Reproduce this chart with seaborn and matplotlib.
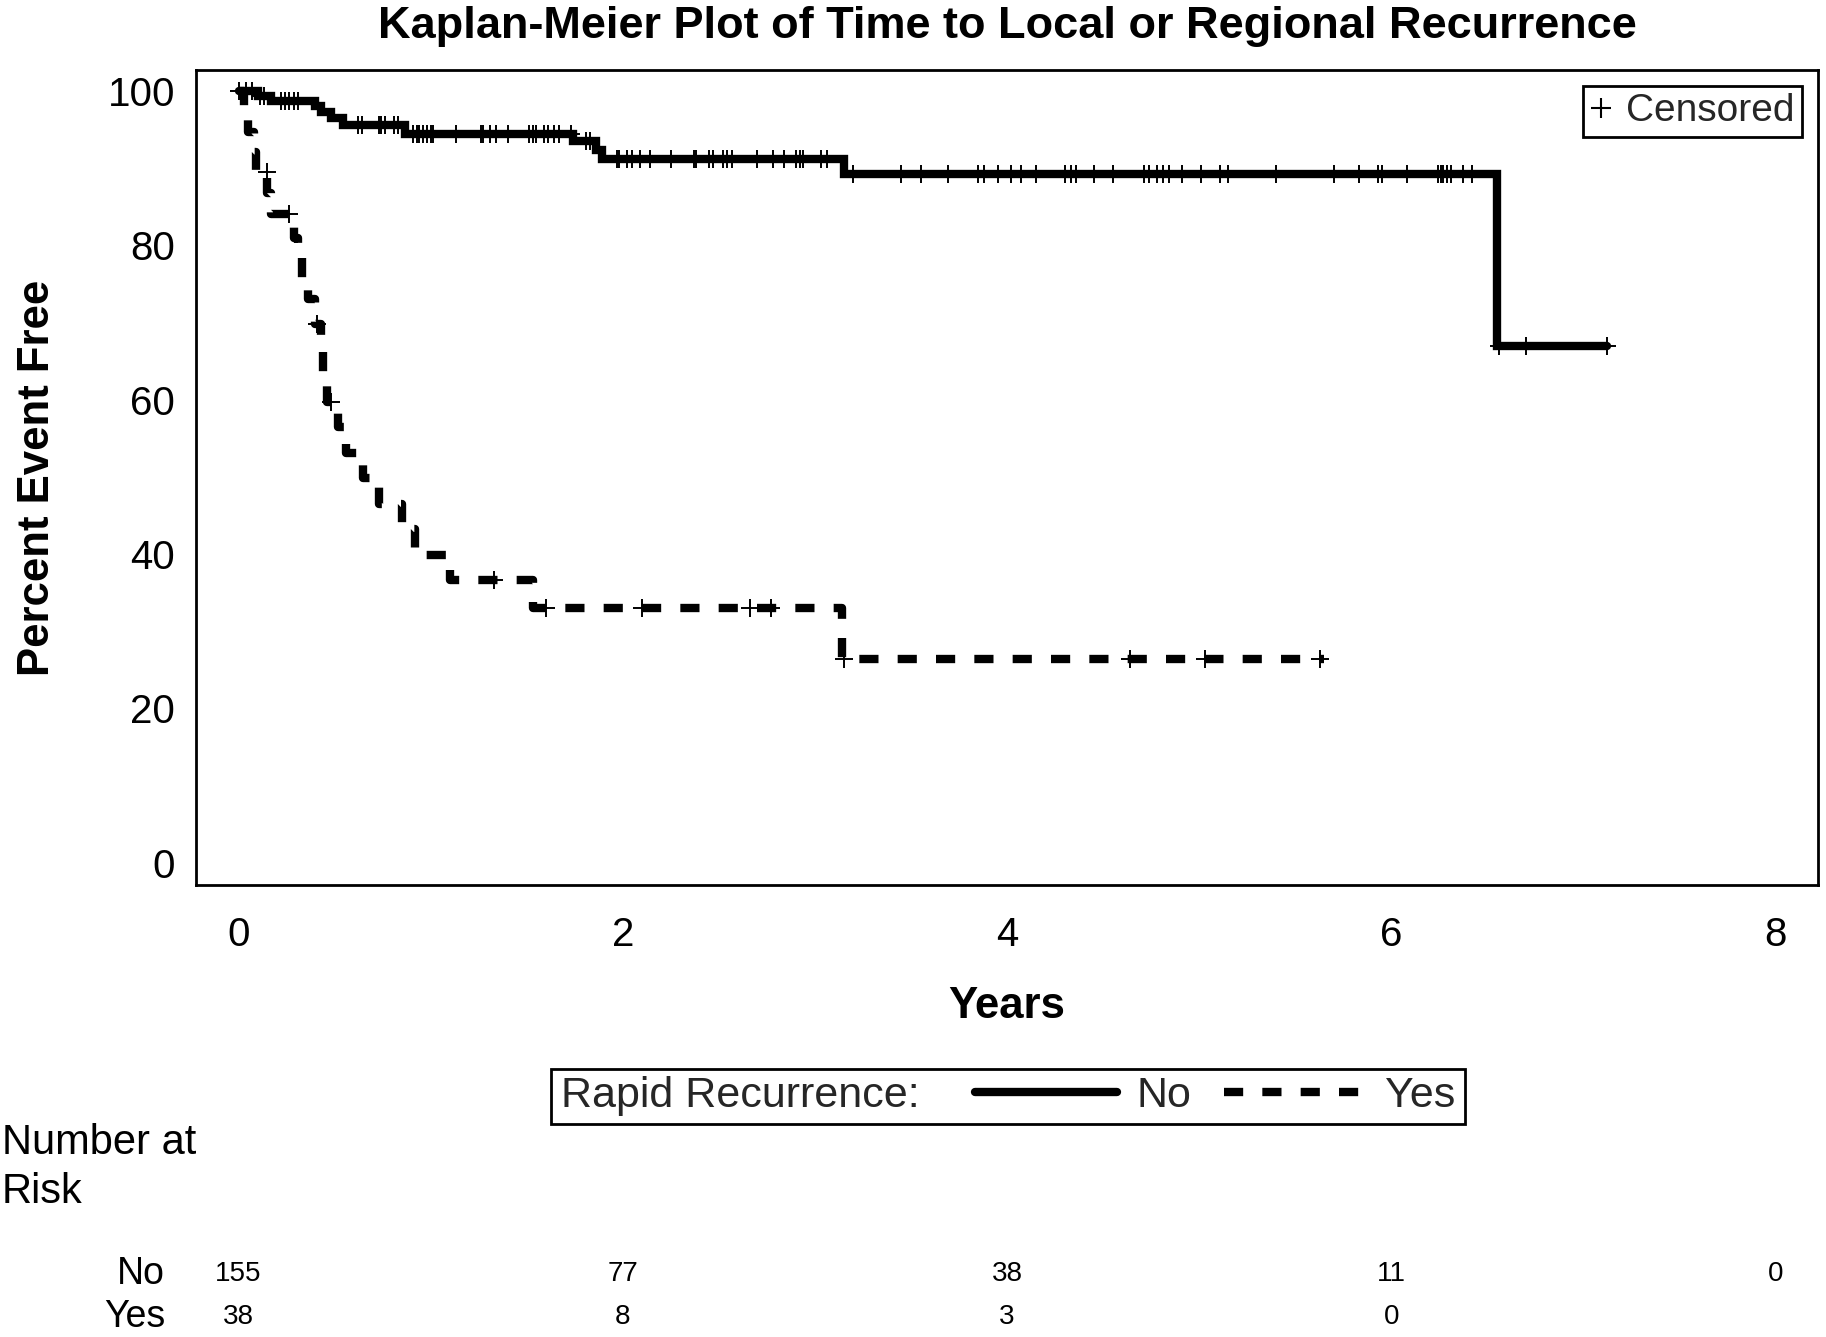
import numpy as np
import pandas as pd
import matplotlib
matplotlib.use("Agg")
import matplotlib.pyplot as plt
import seaborn as sns
from matplotlib.lines import Line2D
from matplotlib.offsetbox import HPacker, DrawingArea

# ---------------- data ----------------
title = "Kaplan-Meier Plot of Time to Local or Regional Recurrence"
x_label = "Years"
y_label = "Percent Event Free"
group_title = "Rapid Recurrence:"
groups = ["No", "Yes"]
censor_label = "Censored"
risk_title = "Number at\nRisk"

no_times = [0.00, 0.10, 0.17, 0.40, 0.43, 0.48, 0.545, 0.866, 1.74, 1.86, 1.89, 3.15, 6.55]
no_surv = [100.0, 99.4, 98.7, 98.0, 97.3, 96.5, 95.6, 94.4, 93.5, 92.4, 91.2, 89.3, 67.0]
no_end = 7.12
no_censor = [0.0, 0.04, 0.07, 0.11, 0.13, 0.22, 0.24, 0.26, 0.29, 0.31,
             0.62, 0.64, 0.73, 0.74, 0.76, 0.81, 0.83,
             0.91, 0.93, 0.94, 0.96, 0.98, 1.00, 1.01, 1.13, 1.26, 1.27, 1.31, 1.34,
             1.40, 1.51, 1.53, 1.55, 1.59, 1.61, 1.64, 1.67, 1.73, 1.81, 1.83,
             1.97, 1.98, 2.02, 2.05, 2.09, 2.14, 2.25, 2.37, 2.38, 2.45, 2.47, 2.52,
             2.54, 2.57, 2.70, 2.78, 2.84, 2.90, 2.92, 2.94, 3.03, 3.06,
             3.20, 3.45, 3.55, 3.69, 3.85, 3.88, 3.95, 4.02, 4.07, 4.15, 4.30, 4.33,
             4.36, 4.45, 4.55, 4.71, 4.74, 4.78, 4.81, 4.84, 4.91, 5.01, 5.11, 5.15,
             5.40, 5.70, 5.83, 5.93, 5.95, 6.08, 6.24, 6.26, 6.27, 6.29, 6.31, 6.37,
             6.42, 6.56, 6.70, 7.12]

yes_times = [0.00, 0.03, 0.05, 0.08, 0.09, 0.15, 0.17, 0.29, 0.31, 0.33, 0.36, 0.40,
             0.43, 0.44, 0.46, 0.52, 0.56, 0.65, 0.73, 0.85, 0.92, 1.10, 1.53, 3.14]
yes_surv = [100.0, 97.4, 94.7, 92.1, 89.5, 86.8, 84.1, 81.0, 78.4, 75.8, 73.0, 69.8,
            66.5, 63.1, 59.7, 56.4, 53.1, 49.8, 46.5, 43.2, 39.9, 36.6, 33.0, 26.4]
yes_end = 5.65
yes_censor = [0.146, 0.26, 0.41, 0.48, 1.33, 1.60, 2.10, 2.66, 2.77, 3.15, 4.64, 5.03, 5.63]

risk_times = [0, 2, 4, 6, 8]
risk_no = [155, 77, 38, 11, 0]
risk_yes = [38, 8, 3, 0]

x_ticks = [0, 2, 4, 6, 8]
y_ticks = [0, 20, 40, 60, 80, 100]

# ---------------- style ----------------
sns.set_theme(style="white")
plt.rcParams['font.family'] = ['Liberation Sans', 'DejaVu Sans']
plt.rcParams['axes.edgecolor'] = 'black'
plt.rcParams['lines.scale_dashes'] = True

fig = plt.figure(figsize=(18.26, 13.37), dpi=100)
ax = fig.add_axes([0.1073, 0.3381, 0.8883, 0.6095])


def step_frame(times, surv, end):
    t = list(times) + [end]
    s = list(surv) + [surv[-1]]
    return pd.DataFrame({"t": t, "s": s})


def censor_frame(times, surv, cens):
    t = np.asarray(times)
    s = np.asarray(surv)
    c = np.asarray(cens)
    idx = np.searchsorted(t, c, side='right') - 1
    return pd.DataFrame({"t": c, "s": s[idx]})


df_no = step_frame(no_times, no_surv, no_end)
df_yes = step_frame(yes_times, yes_surv, yes_end)

LW = 6
DASH = (0, (2.3, 2.3))

sns.lineplot(data=df_no, x="t", y="s", ax=ax, estimator=None, sort=False,
             drawstyle='steps-post', color='black', lw=LW, solid_joinstyle='miter')
sns.lineplot(data=df_yes, x="t", y="s", ax=ax, estimator=None, sort=False,
             drawstyle='steps-post', color='black', lw=LW)
ax.lines[-1].set_linestyle(DASH)
ax.lines[-1].set_dash_capstyle('butt')

cn = censor_frame(no_times, no_surv, no_censor)
cy = censor_frame(yes_times, yes_surv, yes_censor)
for cdf in (cn, cy):
    sns.scatterplot(data=cdf, x="t", y="s", ax=ax, marker='+', s=170,
                    color='black', linewidth=1.4, zorder=5, legend=False)

ax.set_xlim(-0.222, 8.22)
ax.set_ylim(-2.86, 102.7)
ax.set_xticks(x_ticks)
ax.set_yticks(y_ticks)
ax.tick_params(axis='both', which='major', length=11, width=1.5, color='black',
               labelsize=29, labelcolor='black', direction='out')
ax.tick_params(axis='x', pad=11)
ax.tick_params(axis='y', pad=4)
for sp in ax.spines.values():
    sp.set_visible(True)
    sp.set_linewidth(2)
    sp.set_color('black')

ax.set_xlabel(x_label, fontsize=31.5, fontweight='bold', color='black')
ax.set_ylabel(y_label, fontsize=31.5, fontweight='bold', color='black')
ax.xaxis.set_label_coords(0.5, -0.1497)
ax.xaxis.label.set_va('center')
ax.yaxis.set_label_coords(-0.0974, 0.5)
ax.yaxis.label.set_va('center')

fig.text(0.5515, 0.980, title, ha='center', va='center', fontsize=32.5,
         fontweight='bold', color='black')

# censored legend
cens_handle = Line2D([], [], marker='+', ls='none', color='black', ms=14, mew=1.5)
leg_c = ax.legend(handles=[cens_handle], labels=[censor_label], loc='upper right',
                  fancybox=False, edgecolor='black', framealpha=1, fontsize=28,
                  handlelength=0.5, handletextpad=0.4, borderpad=0.2,
                  borderaxespad=0.4)
leg_c.get_frame().set_linewidth(2)

# group legend (title to the left of handles)
h_no = Line2D([], [], color='black', lw=LW)
h_yes = Line2D([], [], color='black', lw=LW, linestyle=DASH, dash_capstyle='butt')
leg = fig.legend(handles=[h_no, h_yes], labels=groups, title=group_title, ncol=2,
                 loc='center', bbox_to_anchor=(0.552, 0.180), fancybox=False,
                 edgecolor='black', framealpha=1, fontsize=31, title_fontsize=31,
                 handlelength=3.3, handletextpad=0.45, columnspacing=0.75,
                 borderpad=0.4)
leg.get_frame().set_linewidth(2)
inner = HPacker(pad=0, sep=40, align="center",
                children=[leg._legend_title_box, leg._legend_handle_box])
box = HPacker(pad=5.3, sep=0, align="center",
              children=[DrawingArea(1.5, 1), inner, DrawingArea(1.5, 1)])
box.set_figure(fig)
box.axes = leg.axes
leg._legend_box = box
box.set_offset(leg._findoffset)

# number at risk table
fig.text(0.001, 0.160, risk_title, ha='left', va='top', fontsize=30,
         linespacing=1.28, color='black')
row_y = [0.0471, 0.0150]
trans = matplotlib.transforms.blended_transform_factory(ax.transData, fig.transFigure)
for gname, yy, counts in zip(groups, row_y, [risk_no, risk_yes]):
    fig.text(0.0904, yy, gname, ha='right', va='center', fontsize=27, color='black')
    for xt, n in zip(risk_times, counts):
        fig.text(xt, yy, str(n), transform=trans, ha='center', va='center',
                 fontsize=20, color='black')

fig.savefig("out.png", dpi=100, facecolor='white')
